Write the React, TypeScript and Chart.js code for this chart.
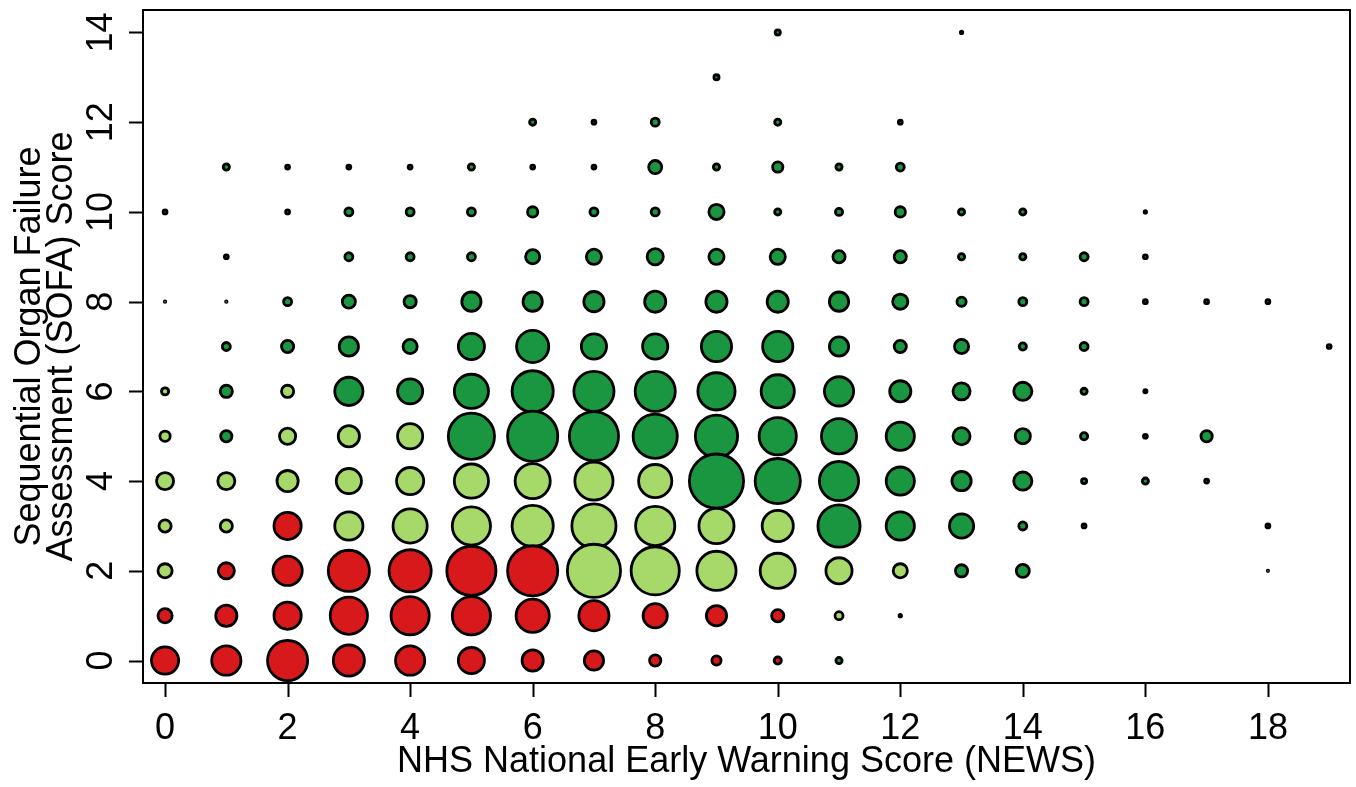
import React, { useEffect, useRef } from "react";
import { Chart, registerables, BubbleController } from "chart.js";

Chart.register(...registerables);

// Bubble controller that does not widen the layout padding for large bubbles,
// so the plot frame keeps the exact margins set in layout.padding.
class FramedBubbleController extends (BubbleController as any) {
  static id = "framedBubble";
  getMaxOverflow() {
    return 0;
  }
}
Chart.register(FramedBubbleController as any);

// [NEWS, SOFA, patients] for each cell, grouped by risk colour
const redCells: number[][] = [
  [0, 0, 100], [1, 0, 114], [2, 0, 205], [3, 0, 128], [4, 0, 114], [5, 0, 93], [6, 0, 64], [7, 0, 54], [8, 0, 22], [9, 0, 16], [10, 0, 11],
  [0, 1, 32], [1, 1, 64], [2, 1, 100], [3, 1, 178], [4, 1, 187], [5, 1, 187], [6, 1, 144], [7, 1, 121], [8, 1, 81], [9, 1, 59], [10, 1, 25],
  [1, 2, 40], [2, 2, 114], [3, 2, 215], [4, 2, 225], [5, 2, 300], [6, 2, 312],
  [2, 3, 100],
];

const lightGreenCells: number[][] = [
  [11, 1, 13],
  [0, 2, 32], [7, 2, 348], [8, 2, 289], [9, 2, 196], [10, 2, 160], [11, 2, 93], [12, 2, 32],
  [0, 3, 25], [1, 3, 25], [3, 3, 107], [4, 3, 152], [5, 3, 187], [6, 3, 215], [7, 3, 245], [8, 3, 196], [9, 3, 160], [10, 3, 128],
  [0, 4, 44], [1, 4, 44], [2, 4, 64], [3, 4, 87], [4, 4, 100], [5, 4, 152], [6, 4, 160], [7, 4, 187], [8, 4, 144],
  [0, 5, 19], [2, 5, 40], [3, 5, 64], [4, 5, 87],
  [0, 6, 11], [2, 6, 25],
];

const darkGreenCells: number[][] = [
  [11, 0, 9], [12, 1, 3],
  [13, 2, 25], [14, 2, 28], [18, 2, 2],
  [11, 3, 225], [12, 3, 107], [13, 3, 81], [14, 3, 13], [15, 3, 5], [18, 3, 5],
  [9, 4, 361], [10, 4, 256], [11, 4, 196], [12, 4, 107], [13, 4, 54], [14, 4, 49], [15, 4, 7], [16, 4, 9], [17, 4, 5],
  [1, 5, 22], [5, 5, 267], [6, 5, 312], [7, 5, 300], [8, 5, 245], [9, 5, 225], [10, 5, 178], [11, 5, 160], [12, 5, 107], [13, 5, 44], [14, 5, 36], [15, 5, 11], [16, 5, 5], [17, 5, 22],
  [1, 6, 25], [3, 6, 107], [4, 6, 87], [5, 6, 152], [6, 6, 215], [7, 6, 205], [8, 6, 205], [9, 6, 178], [10, 6, 144], [11, 6, 114], [12, 6, 64], [13, 6, 44], [14, 6, 49], [15, 6, 9], [16, 6, 4],
  [1, 7, 13], [2, 7, 25], [3, 7, 54], [4, 7, 32], [5, 7, 93], [6, 7, 136], [7, 7, 87], [8, 7, 87], [9, 7, 121], [10, 7, 121], [11, 7, 54], [12, 7, 25], [13, 7, 32], [14, 7, 11], [15, 7, 13], [19, 7, 5],
  [0, 8, 2], [1, 8, 2], [2, 8, 13], [3, 8, 28], [4, 8, 25], [5, 8, 54], [6, 8, 54], [7, 8, 59], [8, 8, 64], [9, 8, 64], [10, 8, 64], [11, 8, 54], [12, 8, 36], [13, 8, 16], [14, 8, 13], [15, 8, 13], [16, 8, 5], [17, 8, 5], [18, 8, 5],
  [1, 9, 5], [3, 9, 13], [4, 9, 13], [5, 9, 13], [6, 9, 32], [7, 9, 36], [8, 9, 40], [9, 9, 36], [10, 9, 36], [11, 9, 25], [12, 9, 25], [13, 9, 9], [14, 9, 9], [15, 9, 13], [16, 9, 5],
  [0, 10, 5], [2, 10, 5], [3, 10, 13], [4, 10, 13], [5, 10, 13], [6, 10, 19], [7, 10, 13], [8, 10, 13], [9, 10, 36], [10, 10, 9], [11, 10, 11], [12, 10, 19], [13, 10, 9], [14, 10, 9], [16, 10, 3],
  [1, 11, 9], [2, 11, 5], [3, 11, 5], [4, 11, 5], [5, 11, 9], [6, 11, 5], [7, 11, 5], [8, 11, 28], [9, 11, 9], [10, 11, 19], [11, 11, 9], [12, 11, 13],
  [6, 12, 9], [7, 12, 5], [8, 12, 13], [10, 12, 9], [12, 12, 5],
  [9, 13, 7],
  [10, 14, 7], [13, 14, 3],
];

const xTicks = [0, 2, 4, 6, 8, 10, 12, 14, 16, 18];
const yTicks = [0, 2, 4, 6, 8, 10, 12, 14];
const xTitle = "NHS National Early Warning Score (NEWS)";
const yTitleLines = ["Sequential Organ Failure", "Assessment (SOFA) Score"];

const RED = "#D7191C";
const LIGHT_GREEN = "#A6D96A";
const DARK_GREEN = "#1A9641";
const BORDER = 2.8;
const FONT = '36px "Liberation Sans", Arial, Helvetica, sans-serif';

// bubble area grows with the patient count
function bubbleRadius(n: number): number {
  const outer = 1.5 * Math.sqrt(n);
  return Math.max(outer - BORDER / 2, 0.4);
}

function toPoints(cells: number[][]) {
  // higher SOFA rows first so lower rows sit on top where bubbles touch
  return [...cells]
    .sort((a, b) => b[1] - a[1] || a[0] - b[0])
    .map(([x, y, n]) => ({ x, y, r: bubbleRadius(n) }));
}

const frameAndLabels = {
  id: "frameAndLabels",
  afterDraw(chart: any) {
    const { ctx, chartArea: a, scales } = chart;
    const xs = scales.x;
    const ys = scales.y;
    ctx.save();
    ctx.strokeStyle = "#000";
    ctx.lineWidth = 2;
    ctx.strokeRect(a.left, a.top, a.right - a.left, a.bottom - a.top);

    ctx.beginPath();
    xTicks.forEach((v) => {
      const px = Math.round(xs.getPixelForValue(v)) + 0.5;
      ctx.moveTo(px, a.bottom);
      ctx.lineTo(px, a.bottom + 14);
    });
    yTicks.forEach((v) => {
      const py = Math.round(ys.getPixelForValue(v)) + 0.5;
      ctx.moveTo(a.left, py);
      ctx.lineTo(a.left - 14, py);
    });
    ctx.stroke();

    ctx.fillStyle = "#000";
    ctx.font = FONT;
    ctx.textAlign = "center";
    ctx.textBaseline = "alphabetic";
    xTicks.forEach((v) => {
      ctx.fillText(String(v), xs.getPixelForValue(v), a.bottom + 56);
    });
    ctx.fillText(xTitle, (a.left + a.right) / 2, a.bottom + 89);

    yTicks.forEach((v) => {
      ctx.save();
      ctx.translate(a.left - 31, ys.getPixelForValue(v));
      ctx.rotate(-Math.PI / 2);
      ctx.fillText(String(v), 0, 0);
      ctx.restore();
    });

    const midY = (a.top + a.bottom) / 2;
    const titleBaselines = [a.left - 103, a.left - 71];
    yTitleLines.forEach((line, i) => {
      ctx.save();
      ctx.translate(titleBaselines[i], midY);
      ctx.rotate(-Math.PI / 2);
      ctx.fillText(line, 0, 0);
      ctx.restore();
    });
    ctx.restore();
  },
};

export default function App() {
  const canvasRef = useRef<HTMLCanvasElement | null>(null);

  useEffect(() => {
    const canvas = canvasRef.current;
    if (!canvas) return;
    const bubbleSet = (label: string, cells: number[][], color: string) => ({
      type: "framedBubble",
      label,
      data: toPoints(cells),
      backgroundColor: color,
      borderColor: "#000",
      borderWidth: BORDER,
    });
    const chart = new Chart(canvas, {
      type: "framedBubble" as any,
      data: {
        datasets: [
          bubbleSet("red", redCells, RED),
          bubbleSet("light green", lightGreenCells, LIGHT_GREEN),
          bubbleSet("dark green", darkGreenCells, DARK_GREEN),
        ] as any,
      },
      options: {
        responsive: false,
        animation: false,
        devicePixelRatio: 1,
        events: [],
        layout: { padding: { left: 143, right: 6, top: 10, bottom: 104 } },
        plugins: {
          legend: { display: false },
          tooltip: { enabled: false },
        },
        scales: {
          x: { type: "linear", display: false, min: -0.36, max: 19.34 },
          y: { type: "linear", display: false, min: -0.5, max: 14.5 },
        },
      } as any,
      plugins: [frameAndLabels],
    });
    return () => chart.destroy();
  }, []);

  return (
    <div style={{ position: "absolute", left: 0, top: 0, width: 1356, height: 787, background: "#fff" }}>
      <canvas ref={canvasRef} width={1356} height={787} style={{ display: "block", width: 1356, height: 787 }} />
    </div>
  );
}
